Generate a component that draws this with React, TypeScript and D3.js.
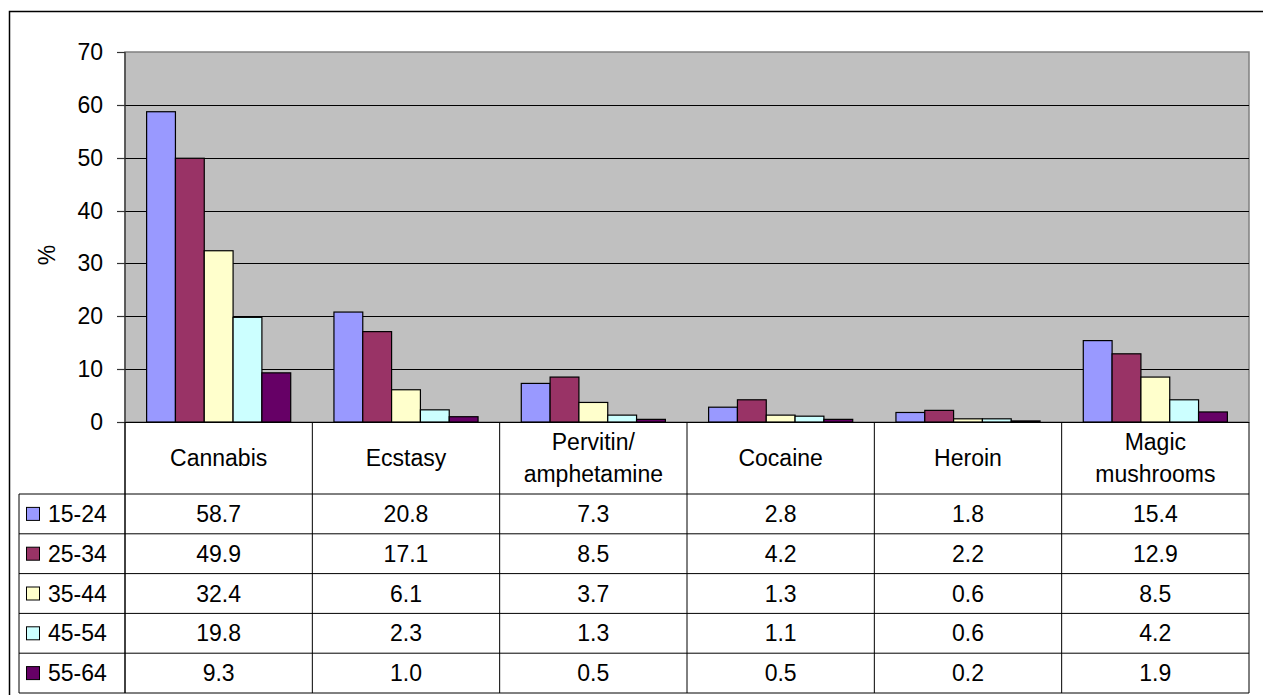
import React from "react";
import * as d3 from "d3";

// Drug use prevalence by age group (%)
const categories: string[][] = [
  ["Cannabis"],
  ["Ecstasy"],
  ["Pervitin/", "amphetamine"],
  ["Cocaine"],
  ["Heroin"],
  ["Magic", "mushrooms"],
];
const ageGroups = ["15-24", "25-34", "35-44", "45-54", "55-64"];
const colors = ["#9999FF", "#993366", "#FFFFCC", "#CCFFFF", "#660066"];

const age15to24 = [58.7, 20.8, 7.3, 2.8, 1.8, 15.4];
const age25to34 = [49.9, 17.1, 8.5, 4.2, 2.2, 12.9];
const age35to44 = [32.4, 6.1, 3.7, 1.3, 0.6, 8.5];
const age45to54 = [19.8, 2.3, 1.3, 1.1, 0.6, 4.2];
const age55to64 = [9.3, 1.0, 0.5, 0.5, 0.2, 1.9];
const series = [age15to24, age25to34, age35to44, age45to54, age55to64];

const yTicks = [0, 10, 20, 30, 40, 50, 60, 70];

const W = 1263;
const H = 695;
const FONT = "'Liberation Sans', Arial, sans-serif";

export default function App() {
  const plotLeft = 125;
  const plotRight = 1249;
  const plotTop = 52;
  const plotBottom = 422;
  const catRowBottom = 494;
  const tableBottom = 693;
  const tableLeft = 19;
  const rowH = (tableBottom - catRowBottom) / ageGroups.length;
  const fs = 23;

  const y = d3.scaleLinear().domain([0, 70]).range([plotBottom, plotTop]);
  const x0 = d3
    .scaleBand<number>()
    .domain(d3.range(categories.length))
    .range([plotLeft, plotRight])
    .padding(0);
  const gw = x0.bandwidth();
  const barW = gw / 6.5;
  const x1 = d3
    .scaleBand<number>()
    .domain(d3.range(ageGroups.length))
    .range([(gw - barW * 5) / 2, (gw + barW * 5) / 2])
    .padding(0);

  return (
    <svg
      width={W}
      height={H}
      style={{ position: "absolute", left: 0, top: 0, fontFamily: FONT }}
    >
      <rect x={0} y={0} width={W} height={H} fill="#fff" />
      {/* outer chart frame */}
      <rect
        x={9.5}
        y={11.5}
        width={W + 20}
        height={H + 20}
        fill="none"
        stroke="#000"
        strokeWidth={1.5}
      />
      {/* plot background */}
      <rect
        x={plotLeft}
        y={plotTop}
        width={plotRight - plotLeft}
        height={plotBottom - plotTop}
        fill="#C0C0C0"
        stroke="#808080"
        strokeWidth={1.5}
      />
      {/* gridlines */}
      {yTicks
        .filter((t) => t > 0 && t < 70)
        .map((t) => (
          <line
            key={"g" + t}
            x1={plotLeft}
            x2={plotRight}
            y1={Math.round(y(t)) + 0.5}
            y2={Math.round(y(t)) + 0.5}
            stroke="#000"
            strokeWidth={1}
          />
        ))}
      {/* bars */}
      {series.map((vals, si) =>
        vals.map((v, ci) => (
          <rect
            key={`b${si}-${ci}`}
            x={(x0(ci) as number) + (x1(si) as number)}
            y={y(v)}
            width={barW}
            height={plotBottom - y(v)}
            fill={colors[si]}
            stroke="#000"
            strokeWidth={1.2}
          />
        ))
      )}
      {/* value axis */}
      <line
        x1={plotLeft}
        x2={plotLeft}
        y1={plotTop}
        y2={tableBottom}
        stroke="#333"
        strokeWidth={1.2}
      />
      {yTicks.map((t) => (
        <g key={"t" + t}>
          <line
            x1={plotLeft - 8}
            x2={plotLeft}
            y1={Math.round(y(t)) + 0.5}
            y2={Math.round(y(t)) + 0.5}
            stroke="#333"
            strokeWidth={1.2}
          />
          <text
            x={103}
            y={y(t)}
            dy="0.35em"
            textAnchor="end"
            fontSize={fs}
            fill="#000"
          >
            {t}
          </text>
        </g>
      ))}
      <text
        transform={`translate(47,255) rotate(-90)`}
        textAnchor="middle"
        dy="0.35em"
        fontSize={fs}
        fill="#000"
      >
        %
      </text>
      {/* category axis baseline */}
      <line
        x1={plotLeft}
        x2={plotRight}
        y1={plotBottom + 0.5}
        y2={plotBottom + 0.5}
        stroke="#000"
        strokeWidth={1.2}
      />
      {/* data table: column dividers */}
      {d3.range(categories.length + 1).map((i) => {
        const xx = i === categories.length ? plotRight : (x0(i) as number);
        return (
          <line
            key={"v" + i}
            x1={xx}
            x2={xx}
            y1={plotBottom}
            y2={tableBottom}
            stroke="#000"
            strokeWidth={1}
          />
        );
      })}
      <line
        x1={tableLeft}
        x2={tableLeft}
        y1={catRowBottom}
        y2={tableBottom}
        stroke="#000"
        strokeWidth={1}
      />
      {d3.range(ageGroups.length + 1).map((r) => (
        <line
          key={"h" + r}
          x1={tableLeft}
          x2={plotRight}
          y1={catRowBottom + r * rowH}
          y2={catRowBottom + r * rowH}
          stroke="#000"
          strokeWidth={1}
        />
      ))}
      {/* category labels */}
      {categories.map((lines, ci) => {
        const cx = (x0(ci) as number) + gw / 2;
        const cy = (plotBottom + catRowBottom) / 2;
        const lh = 32;
        return (
          <text
            key={"c" + ci}
            x={cx}
            textAnchor="middle"
            fontSize={fs}
            fill="#000"
          >
            {lines.map((ln, li) => (
              <tspan
                key={li}
                x={cx}
                y={cy + (li - (lines.length - 1) / 2) * lh}
                dy="0.35em"
              >
                {ln}
              </tspan>
            ))}
          </text>
        );
      })}
      {/* legend keys and values */}
      {ageGroups.map((g, si) => {
        const cy = catRowBottom + (si + 0.5) * rowH;
        return (
          <g key={"r" + si}>
            <rect
              x={26.5}
              y={cy - 6.5}
              width={13}
              height={13}
              fill={colors[si]}
              stroke="#000"
              strokeWidth={1}
            />
            <text x={48} y={cy} dy="0.35em" fontSize={fs} fill="#000">
              {g}
            </text>
            {series[si].map((v, ci) => (
              <text
                key={ci}
                x={(x0(ci) as number) + gw / 2}
                y={cy}
                dy="0.35em"
                textAnchor="middle"
                fontSize={fs}
                fill="#000"
              >
                {v.toFixed(1)}
              </text>
            ))}
          </g>
        );
      })}
    </svg>
  );
}
